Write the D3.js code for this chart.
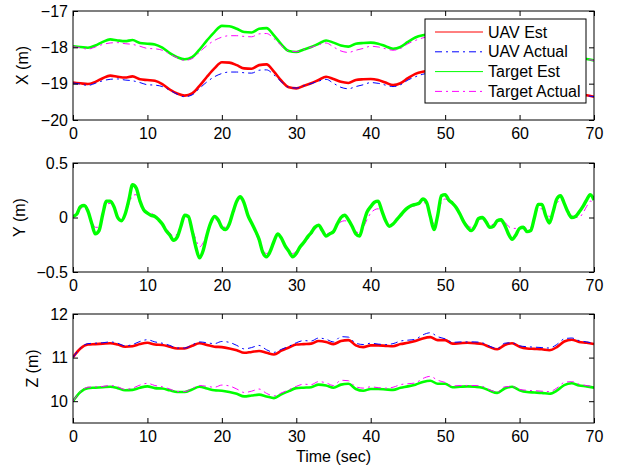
<!DOCTYPE html>
<html>
<head>
<meta charset="utf-8">
<script src="https://cdn.jsdelivr.net/npm/d3@7"></script>
<style>
  body { margin: 0; background: #fff; }
  svg { display: block; font-family: "Liberation Sans", Arial, Helvetica, sans-serif; }
  .tick line { stroke: #000; }
  .tick text { font-size: 16px; fill: #000; }
</style>
</head>
<body>
<svg id="fig" width="622" height="470"></svg>
<script>
// time grids (sec)
const timeX = d3.range(0, 71, 1);
const timeY = d3.range(0, 70.5, 0.5);
const timeZ = d3.range(0, 71, 1);

const xTicks = [0, 10, 20, 30, 40, 50, 60, 70];
const seriesNames = ["UAV Est", "UAV Actual", "Target Est", "Target Actual"];

// X (m), one sample per second
const uavEstX = [-18.97,-18.99,-19.01,-18.95,-18.85,-18.78,-18.81,-18.83,-18.80,-18.88,
  -18.90,-18.92,-19.01,-19.16,-19.27,-19.33,-19.27,-19.06,-18.81,-18.58,
  -18.41,-18.42,-18.49,-18.58,-18.59,-18.49,-18.47,-18.67,-18.92,-19.10,
  -19.13,-19.06,-18.99,-18.90,-18.81,-18.87,-18.95,-18.98,-18.90,-18.88,
  -18.87,-18.90,-18.97,-19.04,-18.99,-18.85,-18.73,-18.67,-18.64,-18.62,
  -18.65,-18.70,-18.74,-18.77,-18.80,-18.84,-18.88,-18.92,-18.95,-18.98,
  -19.02,-19.05,-19.08,-19.12,-19.16,-19.20,-19.23,-19.26,-19.29,-19.32,-19.36];
const uavActX = [-18.98,-19.01,-19.05,-18.99,-18.92,-18.88,-18.87,-18.90,-18.92,-18.97,
  -19.03,-19.04,-19.08,-19.18,-19.29,-19.36,-19.31,-19.13,-18.95,-18.81,
  -18.72,-18.68,-18.68,-18.70,-18.71,-18.63,-18.62,-18.76,-18.95,-19.10,
  -19.12,-19.06,-19.00,-18.93,-18.88,-18.99,-19.10,-19.14,-19.08,-19.03,
  -18.97,-18.99,-19.04,-19.08,-19.03,-18.90,-18.81,-18.74,-18.70,-18.68,
  -18.70,-18.74,-18.78,-18.81,-18.84,-18.88,-18.92,-18.96,-18.99,-19.02,
  -19.05,-19.08,-19.11,-19.14,-19.18,-19.21,-19.24,-19.27,-19.30,-19.33,-19.36];
const tgtEstX = [-17.97,-17.99,-18.01,-17.95,-17.85,-17.78,-17.81,-17.83,-17.80,-17.88,
  -17.90,-17.92,-18.01,-18.16,-18.27,-18.33,-18.27,-18.06,-17.81,-17.58,
  -17.41,-17.42,-17.49,-17.58,-17.59,-17.49,-17.47,-17.67,-17.92,-18.10,
  -18.13,-18.06,-17.99,-17.90,-17.81,-17.87,-17.95,-17.98,-17.90,-17.88,
  -17.87,-17.90,-17.97,-18.04,-17.99,-17.85,-17.73,-17.67,-17.64,-17.62,
  -17.65,-17.70,-17.74,-17.77,-17.80,-17.84,-17.88,-17.92,-17.95,-17.98,
  -18.02,-18.05,-18.08,-18.12,-18.16,-18.20,-18.23,-18.26,-18.29,-18.32,-18.36];
const tgtActX = [-17.98,-18.01,-18.05,-17.99,-17.92,-17.88,-17.87,-17.90,-17.92,-17.97,
  -18.03,-18.04,-18.08,-18.18,-18.29,-18.36,-18.31,-18.13,-17.95,-17.81,
  -17.72,-17.68,-17.68,-17.70,-17.71,-17.63,-17.62,-17.76,-17.95,-18.10,
  -18.12,-18.06,-18.00,-17.93,-17.88,-17.99,-18.10,-18.14,-18.08,-18.03,
  -17.97,-17.99,-18.04,-18.08,-18.03,-17.90,-17.81,-17.74,-17.70,-17.68,
  -17.70,-17.74,-17.78,-17.81,-17.84,-17.88,-17.92,-17.96,-17.99,-18.02,
  -18.05,-18.08,-18.11,-18.14,-18.18,-18.21,-18.24,-18.27,-18.30,-18.33,-18.36];

// Y (m), two samples per second
const tgtEstY = [0.01,0.03,0.10,0.11,0.06,-0.05,-0.15,-0.12,0.03,0.15,
  0.15,0.10,0.00,-0.03,0.03,0.16,0.30,0.27,0.15,0.07,
  0.04,0.02,0.01,-0.02,-0.06,-0.12,-0.16,-0.21,-0.18,-0.08,
  0.02,0.01,-0.12,-0.27,-0.37,-0.30,-0.16,-0.05,0.01,-0.02,
  -0.09,-0.11,-0.06,0.05,0.15,0.19,0.13,0.02,-0.05,-0.12,
  -0.20,-0.32,-0.36,-0.31,-0.22,-0.15,-0.19,-0.26,-0.31,-0.36,
  -0.33,-0.27,-0.23,-0.18,-0.14,-0.09,-0.07,-0.12,-0.17,-0.15,
  -0.13,-0.06,0.00,0.02,-0.02,-0.08,-0.15,-0.17,-0.06,0.05,
  0.10,0.14,0.15,0.06,-0.03,-0.08,-0.06,-0.02,0.02,0.06,
  0.09,0.11,0.12,0.13,0.17,0.14,0.01,-0.11,0.02,0.20,
  0.21,0.16,0.13,0.09,0.03,-0.04,-0.09,-0.12,-0.08,-0.01,
  0.00,-0.04,-0.09,-0.08,-0.03,-0.02,-0.07,-0.15,-0.20,-0.16,
  -0.10,-0.09,-0.13,-0.12,0.00,0.12,0.12,0.02,-0.05,0.05,
  0.17,0.20,0.13,0.05,0.00,0.01,0.05,0.10,0.16,0.21,
  0.16];
const tgtActY = [0.00,0.03,0.08,0.09,0.05,-0.03,-0.09,-0.09,0.02,0.12,
  0.13,0.09,0.01,-0.02,0.03,0.12,0.20,0.21,0.14,0.08,
  0.05,0.04,0.02,-0.01,-0.05,-0.10,-0.14,-0.17,-0.15,-0.07,
  0.01,0.00,-0.10,-0.20,-0.27,-0.23,-0.14,-0.06,-0.01,-0.04,
  -0.08,-0.09,-0.05,0.05,0.14,0.17,0.12,0.03,-0.06,-0.14,
  -0.22,-0.30,-0.33,-0.30,-0.22,-0.16,-0.20,-0.27,-0.31,-0.33,
  -0.31,-0.27,-0.24,-0.20,-0.16,-0.11,-0.08,-0.12,-0.15,-0.14,
  -0.12,-0.07,-0.04,-0.03,-0.04,-0.08,-0.13,-0.14,-0.09,-0.02,
  0.04,0.07,0.08,0.04,-0.02,-0.06,-0.06,-0.02,0.01,0.05,
  0.08,0.10,0.11,0.12,0.14,0.12,0.03,-0.06,0.02,0.14,
  0.17,0.15,0.12,0.08,0.03,-0.02,-0.07,-0.09,-0.07,-0.02,
  -0.01,-0.03,-0.07,-0.06,-0.03,-0.01,-0.04,-0.08,-0.10,-0.10,
  -0.10,-0.09,-0.10,-0.09,-0.01,0.08,0.08,0.04,0.01,0.06,
  0.13,0.16,0.13,0.07,0.02,0.00,0.00,0.04,0.10,0.15,
  0.14];

// Z (m), one sample per second
const uavEstZ = [11.01,11.21,11.30,11.31,11.32,11.33,11.30,11.25,11.26,11.31,
  11.34,11.30,11.29,11.25,11.21,11.21,11.27,11.33,11.29,11.25,
  11.24,11.21,11.17,11.11,11.13,11.15,11.11,11.07,11.16,11.23,
  11.30,11.31,11.32,11.38,11.36,11.31,11.38,11.40,11.28,11.24,
  11.28,11.28,11.27,11.26,11.31,11.34,11.38,11.44,11.47,11.40,
  11.40,11.32,11.33,11.34,11.33,11.31,11.24,11.19,11.29,11.33,
  11.25,11.21,11.20,11.19,11.17,11.24,11.37,11.41,11.36,11.34,11.31];
const uavActZ = [11.00,11.22,11.32,11.33,11.34,11.36,11.33,11.27,11.30,11.37,
  11.41,11.36,11.33,11.28,11.22,11.22,11.29,11.36,11.34,11.32,
  11.37,11.35,11.28,11.20,11.23,11.28,11.18,11.12,11.19,11.26,
  11.34,11.39,11.38,11.45,11.42,11.36,11.48,11.47,11.33,11.30,
  11.33,11.31,11.30,11.32,11.38,11.40,11.42,11.52,11.57,11.48,
  11.43,11.35,11.36,11.36,11.36,11.34,11.26,11.21,11.33,11.34,
  11.27,11.25,11.24,11.23,11.22,11.30,11.43,11.45,11.39,11.36,11.33];
const tgtEstZ = [10.00,10.21,10.30,10.31,10.32,10.33,10.30,10.25,10.26,10.31,
  10.34,10.30,10.29,10.25,10.21,10.21,10.27,10.33,10.29,10.25,
  10.24,10.21,10.17,10.11,10.13,10.15,10.11,10.07,10.16,10.23,
  10.30,10.31,10.32,10.38,10.36,10.31,10.38,10.40,10.28,10.24,
  10.28,10.28,10.27,10.26,10.31,10.34,10.38,10.44,10.47,10.40,
  10.40,10.32,10.33,10.34,10.33,10.31,10.24,10.19,10.29,10.33,
  10.25,10.21,10.20,10.19,10.17,10.24,10.37,10.41,10.36,10.34,10.31];
const tgtActZ = [10.00,10.22,10.32,10.33,10.34,10.36,10.33,10.27,10.30,10.37,
  10.41,10.36,10.33,10.28,10.22,10.22,10.29,10.36,10.34,10.32,
  10.37,10.35,10.28,10.20,10.23,10.28,10.18,10.12,10.19,10.26,
  10.34,10.39,10.38,10.45,10.42,10.36,10.48,10.47,10.33,10.30,
  10.33,10.31,10.30,10.32,10.38,10.40,10.42,10.52,10.57,10.48,
  10.43,10.35,10.36,10.36,10.36,10.34,10.26,10.21,10.33,10.34,
  10.27,10.25,10.24,10.23,10.22,10.30,10.43,10.45,10.39,10.36,10.33];

const styles = {
  "UAV Est":       { color: "#ff0000", dash: null,      width: 2.6 },
  "UAV Actual":    { color: "#0000ff", dash: "7,4,2,4", width: 1 },
  "Target Est":    { color: "#00ff00", dash: null,      width: 2.6 },
  "Target Actual": { color: "#ff00ff", dash: "7,4,2,4", width: 1 }
};

const panels = [
  { top: 11,  domain: [-20, -17], ticks: [-20, -19, -18, -17], label: "X (m)", labelX: 28,
    series: [["UAV Est", timeX, uavEstX], ["UAV Actual", timeX, uavActX],
             ["Target Est", timeX, tgtEstX], ["Target Actual", timeX, tgtActX]] },
  { top: 163, domain: [-0.5, 0.5], ticks: [-0.5, 0, 0.5], label: "Y (m)", labelX: 25,
    series: [["Target Actual", timeY, tgtActY], ["Target Est", timeY, tgtEstY, 3.4]] },
  { top: 314, domain: [9.5, 12], ticks: [10, 11, 12], label: "Z (m)", labelX: 38,
    series: [["UAV Est", timeZ, uavEstZ], ["UAV Actual", timeZ, uavActZ],
             ["Target Est", timeZ, tgtEstZ], ["Target Actual", timeZ, tgtActZ]] }
];

const svg = d3.select("#fig");
svg.append("rect").attr("width", 622).attr("height", 470).attr("fill", "#fff");

const left = 73, right = 594, ph = 109;
const x = d3.scaleLinear().domain([0, 70]).range([left, right]);
const fmt = d3.format("~g");

panels.forEach((p, i) => {
  const y = d3.scaleLinear().domain(p.domain).range([p.top + ph, p.top]);
  const g = svg.append("g");

  g.append("clipPath").attr("id", "clip" + i)
    .append("rect").attr("x", left).attr("y", p.top).attr("width", right - left).attr("height", ph);

  const plot = g.append("g").attr("clip-path", `url(#clip${i})`);
  p.series.forEach(([name, t, v, w]) => {
    const s = styles[name];
    const line = d3.line().x((d, k) => x(t[k])).y(d => y(d)).curve(d3.curveMonotoneX);
    plot.append("path")
      .attr("d", line(v))
      .attr("fill", "none")
      .attr("stroke", s.color)
      .attr("stroke-width", w || s.width)
      .attr("stroke-linejoin", "round")
      .attr("stroke-dasharray", s.dash);
  });

  g.append("g").attr("transform", `translate(0,${p.top + ph})`)
    .call(d3.axisBottom(x).tickValues(xTicks).tickFormat(fmt).tickSizeInner(-5).tickSizeOuter(0).tickPadding(8));
  g.append("g").attr("transform", `translate(0,${p.top})`)
    .call(d3.axisTop(x).tickValues(xTicks).tickFormat("").tickSizeInner(-5).tickSizeOuter(0));
  g.append("g").attr("transform", `translate(${left},0)`)
    .call(d3.axisLeft(y).tickValues(p.ticks).tickFormat(fmt).tickSizeInner(-5).tickSizeOuter(0).tickPadding(5));
  g.append("g").attr("transform", `translate(${right},0)`)
    .call(d3.axisRight(y).tickValues(p.ticks).tickFormat("").tickSizeInner(-5).tickSizeOuter(0));
  g.selectAll(".domain").remove();

  g.append("rect")
    .attr("x", left).attr("y", p.top).attr("width", right - left).attr("height", ph)
    .attr("fill", "none").attr("stroke", "#000").attr("stroke-width", 1);

  g.append("text")
    .attr("transform", `translate(${p.labelX},${p.top + ph / 2}) rotate(-90)`)
    .attr("text-anchor", "middle")
    .attr("font-size", 16)
    .text(p.label);
});

svg.append("text")
  .attr("x", (left + right) / 2).attr("y", 462)
  .attr("text-anchor", "middle")
  .attr("font-size", 16)
  .text("Time (sec)");

// legend
const lg = svg.append("g").attr("transform", "translate(425,19)");
lg.append("rect").attr("width", 161).attr("height", 84)
  .attr("fill", "#fff").attr("stroke", "#000");
seriesNames.forEach((name, k) => {
  const s = styles[name];
  const cy = 13 + k * 19.8;
  lg.append("line")
    .attr("x1", 10).attr("x2", 58).attr("y1", cy).attr("y2", cy)
    .attr("stroke", s.color).attr("stroke-width", 1)
    .attr("stroke-dasharray", s.dash);
  lg.append("text")
    .attr("x", 63).attr("y", cy + 5.5)
    .attr("font-size", 16)
    .text(name);
});
</script>
</body>
</html>
